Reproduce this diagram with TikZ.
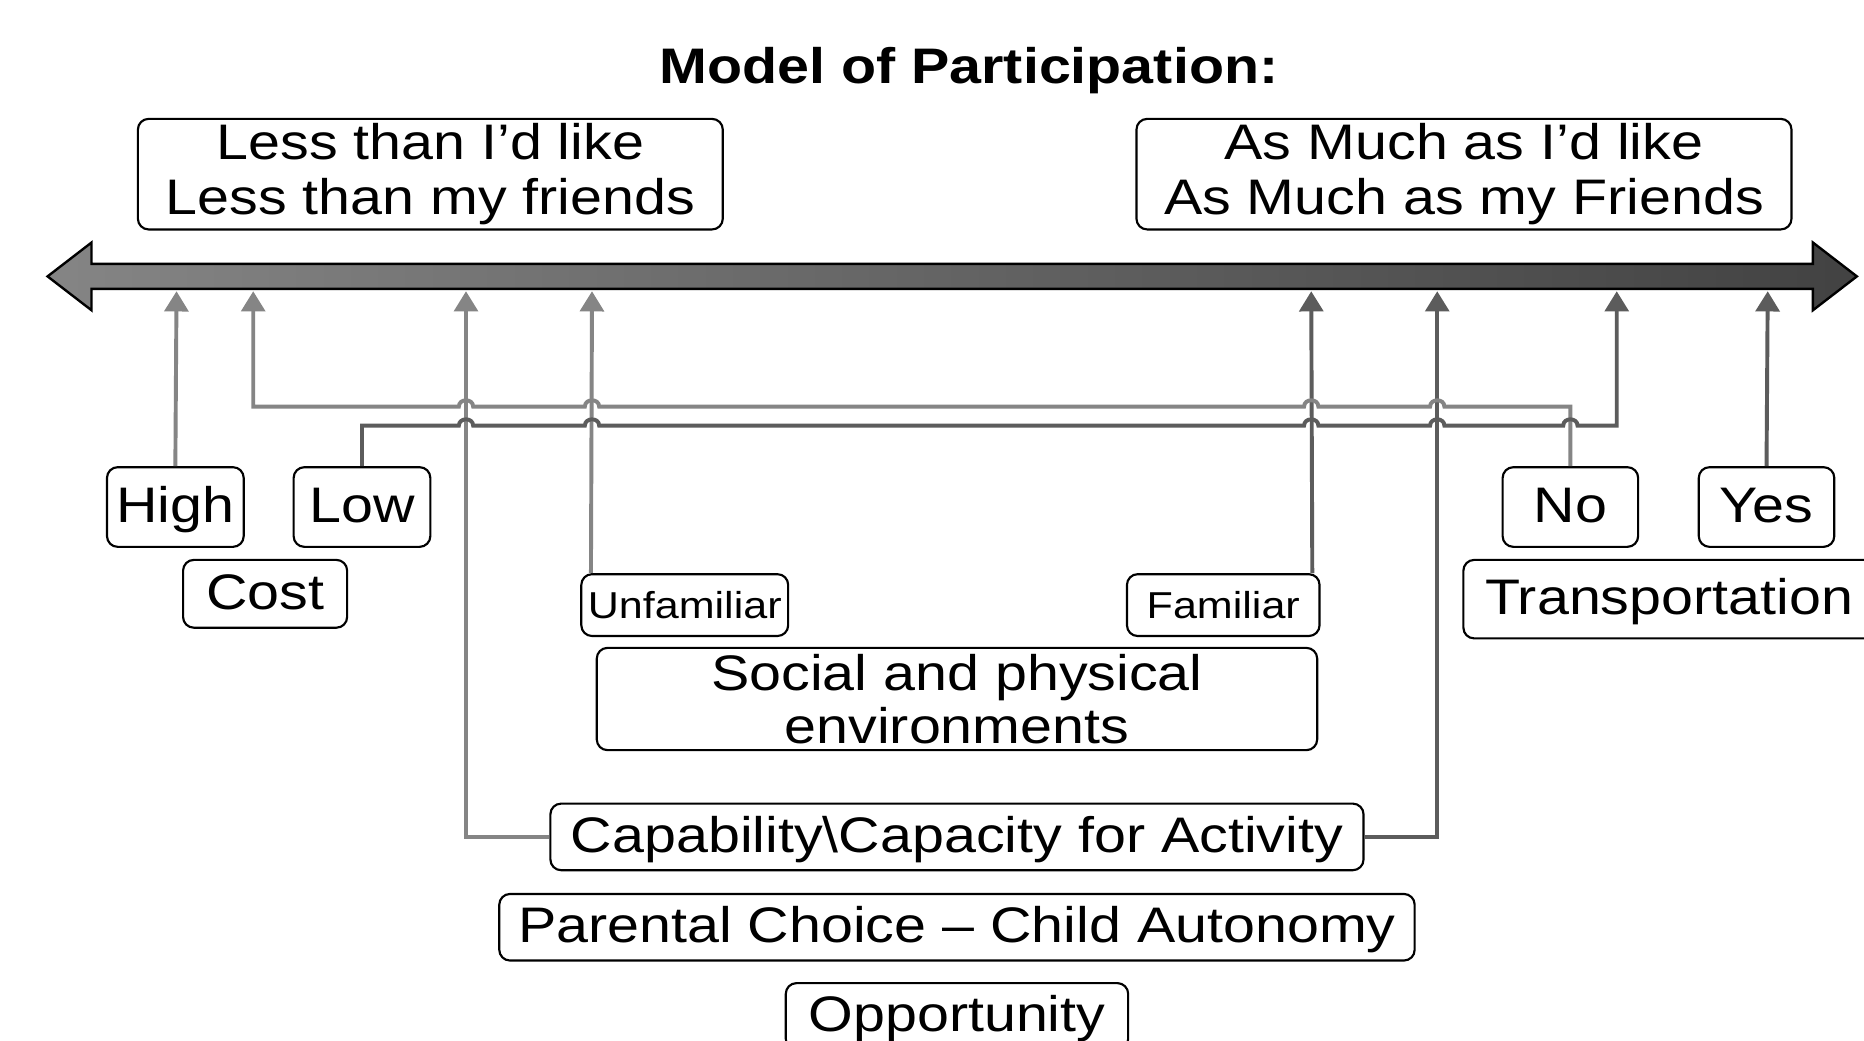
\documentclass[tikz,border=0pt]{standalone}
\usepackage{fontspec}
\setmainfont{Liberation Sans}[FakeStretch=1.15]
\usetikzlibrary{arrows.meta}
\definecolor{lightline}{gray}{0.52}
\definecolor{darkline}{gray}{0.36}
\begin{document}
\begin{tikzpicture}[x=1pt,y=-1pt,
  twoline/.style={draw=black, line width=1.8pt, rounded corners=9pt, fill=white,
    inner sep=0pt, align=center, font=\fontsize{42}{46}\selectfont},
  box/.style={twoline, text height=31pt, text depth=5pt},
  smallbox/.style={twoline, text height=24pt, text depth=2pt, font=\fontsize{31.5}{34}\selectfont},
  lightwire/.style={draw=lightline, line width=3.3pt},
  darkwire/.style={draw=darkline, line width=3.3pt},
  uptip/.style={-{Triangle[width=20pt,length=17pt]}},
  hopl/.style 2 args={insert path={-- (#1+6,#2) .. controls (#1+6,#2-7) and (#1-6,#2-7) .. (#1-6,#2)}},
  hopr/.style 2 args={insert path={-- (#1-6,#2) .. controls (#1-6,#2-7) and (#1+6,#2-7) .. (#1+6,#2)}},
]
\clip (0,0) rectangle (1568,875);
\fill[white] (0,0) rectangle (1568,875);

% title
\node[anchor=base, font=\bfseries\fontsize{42}{46}\selectfont] (title) at (815,70) {Model of Participation:};

% the participation axis
\path[draw=black, line width=2pt, left color=black!48, middle color=black!74, right color=black!74]
  (40,232.5) -- (77,204) -- (77,222) -- (1525,222) -- (1525,204) -- (1562,232.5)
  -- (1525,261) -- (1525,243) -- (77,243) -- (77,261) -- cycle;

% arrival points on the axis
\coordinate (aHigh)  at (148.5,245);
\coordinate (aNo)    at (213,245);
\coordinate (aCapL)  at (392,245);
\coordinate (aUnfam) at (498,245);
\coordinate (aFam)   at (1103,245);
\coordinate (aCapR)  at (1209,245);
\coordinate (aLow)   at (1360,245);
\coordinate (aYes)   at (1487,245);

% boxes
\node[twoline, minimum width=492pt, minimum height=93pt] (less) at (362,146.5)
  {Less than I’d like\\Less than my friends};
\node[twoline, minimum width=551pt, minimum height=93pt] (asmuch) at (1231.5,146.5)
  {As Much as I’d like\\As Much as my Friends};
\node[box, minimum width=115pt, minimum height=67pt] (high) at (147.5,426.5) {High};
\node[box, minimum width=115pt, minimum height=67pt] (low) at (304.5,426.5) {Low};
\node[box, minimum width=138pt, minimum height=57pt] (cost) at (223,499.5) {Cost};
\node[smallbox, minimum width=174pt, minimum height=52pt] (unfam) at (576,509) {Unfamiliar};
\node[smallbox, minimum width=162pt, minimum height=52pt] (fam) at (1029,509) {Familiar};
\node[twoline, minimum width=606pt, minimum height=86pt, font=\fontsize{42}{45}\selectfont] (social) at (805,588)
  {Social and physical\\environments};
\node[box, minimum width=114pt, minimum height=67pt] (no) at (1321,426.5) {No};
\node[box, minimum width=114pt, minimum height=67pt] (yes) at (1486,426.5) {Yes};
\node[box, minimum width=346pt, minimum height=66pt] (transp) at (1404,504) {Transportation};
\node[box, minimum width=684pt, minimum height=56pt] (cap) at (805,704)
  {Capability\textbackslash Capacity for Activity};
\node[box, minimum width=770pt, minimum height=56pt] (parent) at (805,780)
  {Parental Choice – Child Autonomy};
\node[box, minimum width=288pt, minimum height=56pt] (opp) at (805,855) {Opportunity};

% connectors to the axis
\draw[lightwire, uptip] (high.north) -- (aHigh);
\draw[darkwire, uptip] (yes.north) -- (aYes);
\draw[lightwire, uptip] ([xshift=9pt]unfam.north west) -- (aUnfam);
\draw[darkwire, uptip] ([xshift=-7pt]fam.north east) -- (aFam);
\draw[lightwire, uptip] (cap.west) -| (aCapL);
\draw[darkwire, uptip] (cap.east) -| (aCapR);
\draw[lightwire, uptip] (no.north) -- (1321,342)
  [hopl={1209}{342}] [hopl={1103}{342}] [hopl={498}{342}] [hopl={392}{342}]
  -- (213,342) -- (aNo);
\draw[darkwire, uptip] (low.north) -- (304.5,358)
  [hopr={392}{358}] [hopr={498}{358}] [hopr={1103}{358}] [hopr={1209}{358}] [hopr={1321}{358}]
  -- (1360,358) -- (aLow);
\end{tikzpicture}
\end{document}
